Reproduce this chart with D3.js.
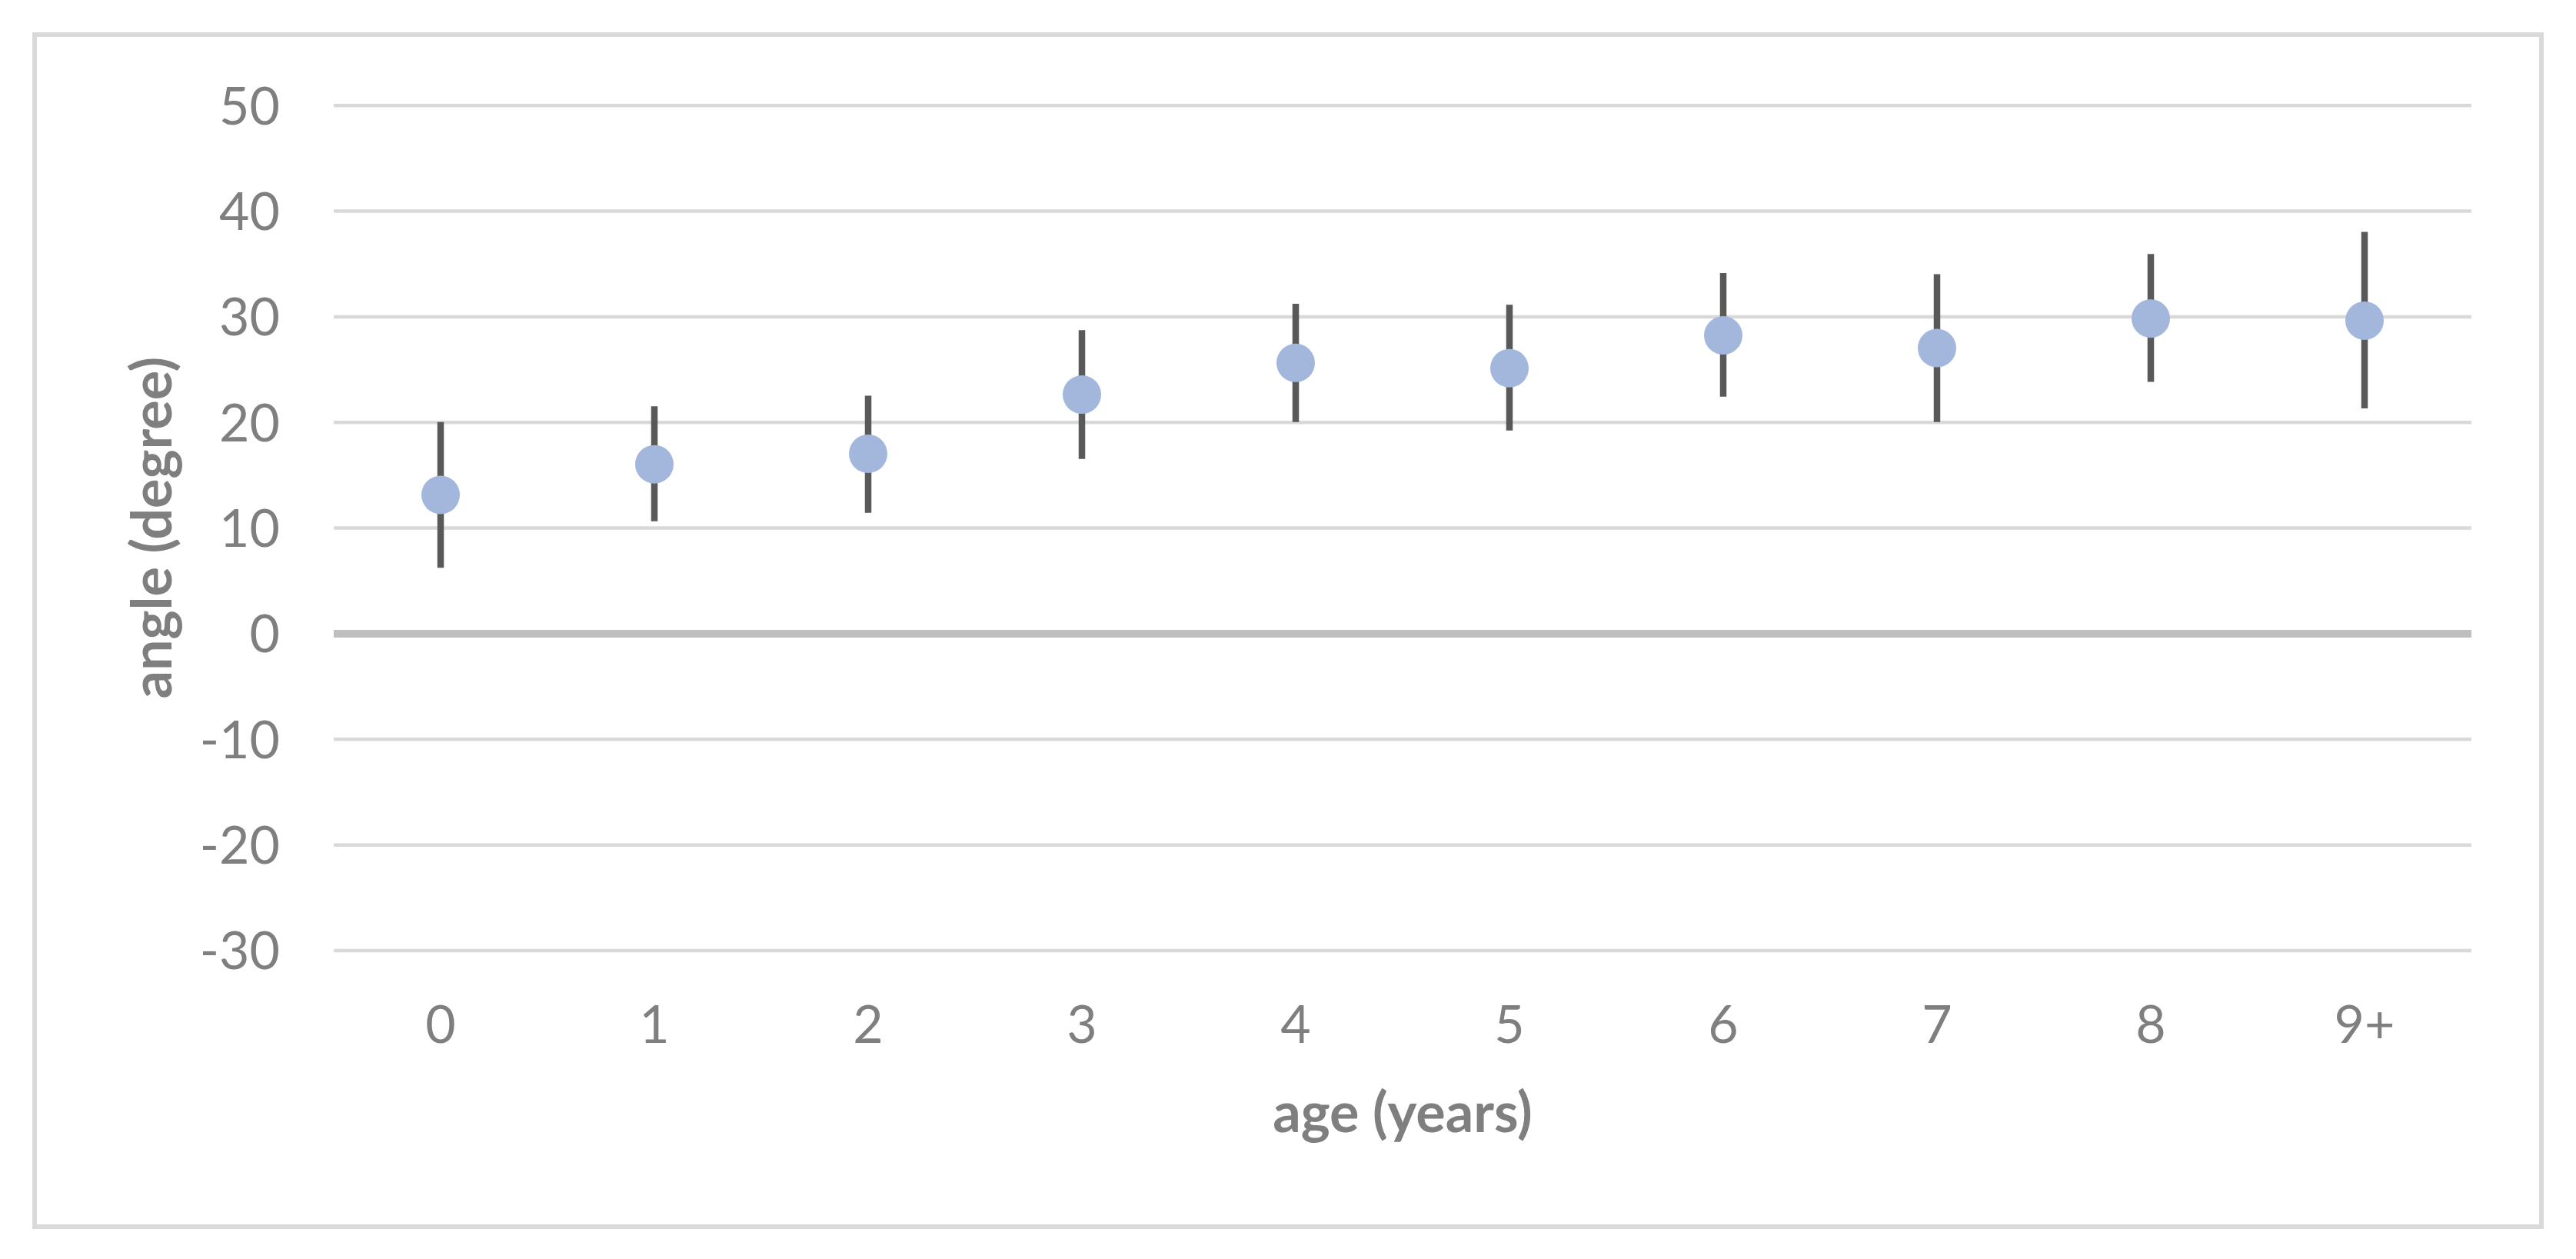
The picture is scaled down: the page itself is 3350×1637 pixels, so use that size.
<!DOCTYPE html>
<html>
<head>
<meta charset="utf-8">
<script src="https://cdn.jsdelivr.net/npm/d3@7"></script>
<style>
  html, body { margin: 0; padding: 0; background: #ffffff; }
  svg { display: block; }
</style>
</head>
<body>
<svg id="chart" width="3350" height="1637"></svg>
<script>
// ---- data ----
const categories = ["0", "1", "2", "3", "4", "5", "6", "7", "8", "9+"];
const meanAngle  = [13.1, 16.0, 17.0, 22.6, 25.6, 25.1, 28.2, 27.0, 29.8, 29.6];
const lowerBound = [6.2, 10.6, 11.4, 16.5, 20.0, 19.2, 22.4, 20.0, 23.8, 21.3];
const upperBound = [20.0, 21.5, 22.5, 28.7, 31.2, 31.1, 34.1, 34.0, 35.9, 38.0];
const yTicks = [-30, -20, -10, 0, 10, 20, 30, 40, 50];
const xTitle = "age (years)";
const yTitle = "angle (degree)";

// ---- layout ----
const W = 3350, H = 1637;
const plot = { left: 434, right: 3214, top: 136.7, bottom: 1235.5 };
const fontFam = "Lato, 'Open Sans', 'DejaVu Sans', sans-serif";
const textColor = "#7f7f7f";

const svg = d3.select("#chart");

// outer chart border
svg.append("rect")
  .attr("x", 45).attr("y", 45)
  .attr("width", 3260).attr("height", 1550)
  .attr("fill", "#ffffff")
  .attr("stroke", "#d9d9d9")
  .attr("stroke-width", 6);

const x = d3.scaleBand().domain(categories).range([plot.left, plot.right]).padding(0);
const y = d3.scaleLinear().domain([-30, 50]).range([plot.bottom, plot.top]);

// y axis with gridlines
const yAxis = d3.axisLeft(y)
  .tickValues(yTicks)
  .tickSize(-(plot.right - plot.left))
  .tickPadding(70)
  .tickFormat(d => String(d));

const gy = svg.append("g")
  .attr("transform", `translate(${plot.left},0)`)
  .call(yAxis);
gy.select(".domain").remove();
gy.selectAll(".tick line")
  .attr("stroke", d => d === 0 ? "#bfbfbf" : "#d9d9d9")
  .attr("stroke-width", d => d === 0 ? 10 : 4.5);
gy.selectAll(".tick text")
  .attr("fill", textColor)
  .attr("font-family", fontFam)
  .attr("font-size", 68)
  .attr("dy", "0.36em");
gy.selectAll(".tick").filter(d => d === 0).raise();

// x axis (labels only)
const xAxis = d3.axisBottom(x).tickSize(0).tickPadding(0);
const gx = svg.append("g")
  .attr("transform", `translate(0,${plot.bottom})`)
  .call(xAxis);
gx.select(".domain").remove();
gx.selectAll(".tick text")
  .attr("fill", textColor)
  .attr("font-family", fontFam)
  .attr("font-size", 68)
  .attr("dy", null)
  .attr("y", 1356 - plot.bottom);

// error bars
const cx = c => x(c) + x.bandwidth() / 2;
svg.append("g").selectAll("line")
  .data(categories)
  .join("line")
  .attr("x1", cx).attr("x2", cx)
  .attr("y1", (c, i) => y(lowerBound[i]))
  .attr("y2", (c, i) => y(upperBound[i]))
  .attr("stroke", "#595959")
  .attr("stroke-width", 8.5);

// markers
svg.append("g").selectAll("circle")
  .data(categories)
  .join("circle")
  .attr("cx", cx)
  .attr("cy", (c, i) => y(meanAngle[i]))
  .attr("r", 25)
  .attr("fill", "#a3b7dc");

// axis titles
svg.append("text")
  .attr("x", (plot.left + plot.right) / 2)
  .attr("y", 1472)
  .attr("text-anchor", "middle")
  .attr("font-family", fontFam)
  .attr("font-weight", "bold")
  .attr("font-size", 72)
  .attr("fill", textColor)
  .text(xTitle);

svg.append("text")
  .attr("transform", `translate(223,${(plot.top + plot.bottom) / 2}) rotate(-90)`)
  .attr("text-anchor", "middle")
  .attr("font-family", fontFam)
  .attr("font-weight", "bold")
  .attr("font-size", 72)
  .attr("fill", textColor)
  .text(yTitle);
</script>
</body>
</html>
